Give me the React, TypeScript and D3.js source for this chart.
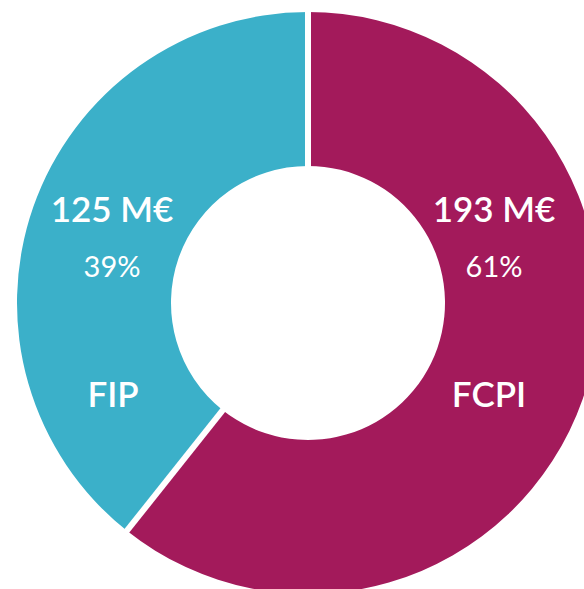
import { useEffect, useRef } from "react";
import * as d3 from "d3";

const categories = ["FCPI", "FIP"];
const amounts = [193, 125];
const amountLabels = ["193 M€", "125 M€"];
const percentLabels = ["61%", "39%"];
const colors = ["#A31A5B", "#3BB0C9"];

const App = () => {
  const ref = useRef<SVGSVGElement>(null);

  useEffect(() => {
    const width = 584;
    const height = 589;
    const svg = d3.select(ref.current).attr("width", width).attr("height", height);
    svg.selectAll("*").remove();

    const cx = 308;
    const cy = 303;
    const outer = 291;
    const inner = 137;

    const g = svg.append("g").attr("transform", `translate(${cx}, ${cy})`);

    const pie = d3
      .pie<number>()
      .sort(null)
      .value((d) => d);
    const arcs = pie(amounts);
    const arc = d3.arc<d3.PieArcDatum<number>>().innerRadius(inner).outerRadius(outer);

    g.selectAll(".slice")
      .data(arcs)
      .enter()
      .append("path")
      .attr("class", "slice")
      .attr("d", arc)
      .attr("fill", (_, i) => colors[i]);

    // white separators between slices
    g.selectAll(".sep")
      .data(arcs)
      .enter()
      .append("line")
      .attr("class", "sep")
      .attr("x1", (d) => Math.sin(d.startAngle) * (inner - 2))
      .attr("y1", (d) => -Math.cos(d.startAngle) * (inner - 2))
      .attr("x2", (d) => Math.sin(d.startAngle) * (outer + 5))
      .attr("y2", (d) => -Math.cos(d.startAngle) * (outer + 5))
      .attr("stroke", "#fff")
      .attr("stroke-width", 6);

    // label positions relative to center
    const labelX = [186, -196];
    const font = "Lato, 'Open Sans', sans-serif";

    arcs.forEach((d, i) => {
      const lg = g.append("g").attr("transform", `translate(${labelX[i]}, 0)`);
      lg.append("text")
        .attr("y", -81)
        .attr("text-anchor", "middle")
        .attr("fill", "#fff")
        .style("font-family", font)
        .style("font-weight", 600)
        .style("font-size", "35px")
        .text(amountLabels[i]);
      lg.append("text")
        .attr("y", -26)
        .attr("text-anchor", "middle")
        .attr("fill", "#fff")
        .style("font-family", font)
        .style("font-weight", 400)
        .style("font-size", "29px")
        .text(percentLabels[i]);
      lg.append("text")
        .attr("x", i === 0 ? -5 : 1)
        .attr("y", 104)
        .attr("text-anchor", "middle")
        .attr("fill", "#fff")
        .style("font-family", font)
        .style("font-weight", 600)
        .style("font-size", "35px")
        .text(categories[i]);
    });
  }, []);

  return (
    <div>
      <svg ref={ref} style={{ position: "absolute", left: 0, top: 0 }}></svg>
    </div>
  );
};

export default App;
